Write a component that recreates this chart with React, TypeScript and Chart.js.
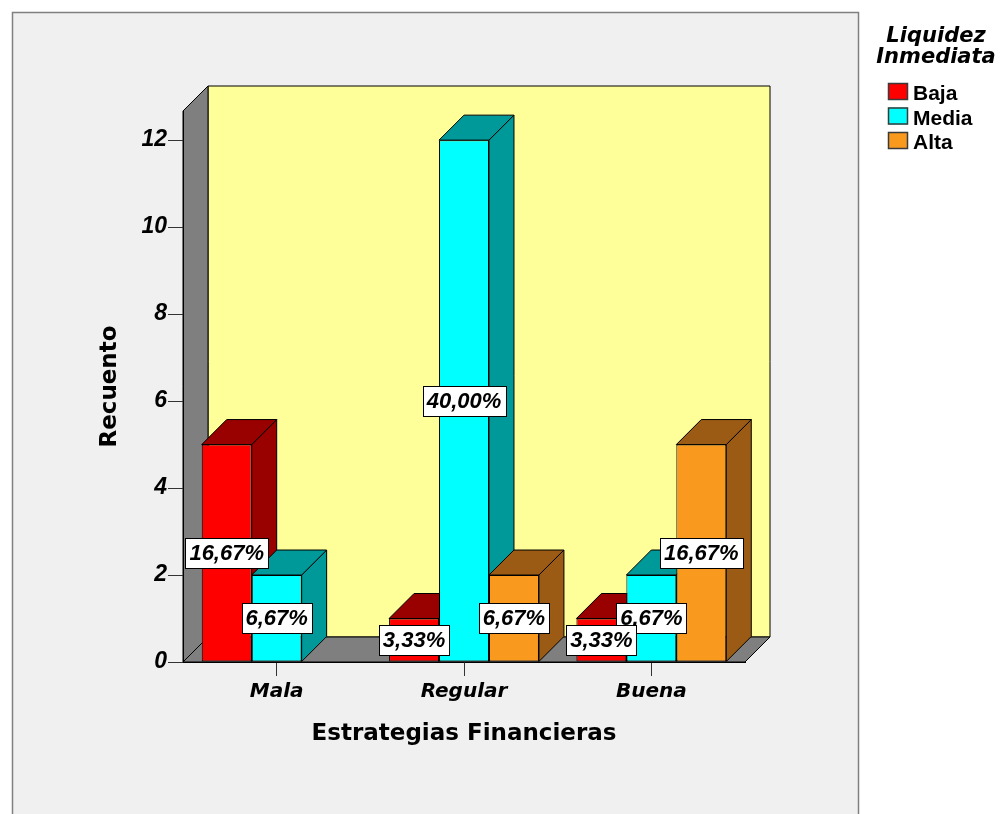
import React, { useEffect, useRef } from 'react';
import { Chart, registerables } from 'chart.js';

Chart.register(...registerables);

// ---- data ----
const CATEGORIES = ['Mala', 'Regular', 'Buena'];
const SERIES_NAMES = ['Baja', 'Media', 'Alta'];
const BAJA = [5, 1, 1];
const MEDIA = [2, 12, 2];
const ALTA = [0, 2, 5];
const Y_TICKS = [0, 2, 4, 6, 8, 10, 12];
const Y_MAX = 12.67;
const LEGEND_TITLE = ['Liquidez', 'Inmediata'];
const X_TITLE = 'Estrategias Financieras';
const Y_TITLE = 'Recuento';

// ---- styles ----
const FRONT_COLORS = ['#ff0000', '#00ffff', '#f99a1f'];
const SIDE_COLORS = ['#990000', '#009999', '#9c5b14'];
const DX = 25;
const DY = 25;

const SERIES = [BAJA, MEDIA, ALTA];
const TOTAL = SERIES.reduce((s, arr) => s + arr.reduce((a, b) => a + b, 0), 0);

function poly(ctx: CanvasRenderingContext2D, pts: number[][], fill: string, stroke = '#000', lw = 1) {
  ctx.beginPath();
  ctx.moveTo(pts[0][0], pts[0][1]);
  for (let i = 1; i < pts.length; i++) ctx.lineTo(pts[i][0], pts[i][1]);
  ctx.closePath();
  ctx.fillStyle = fill;
  ctx.fill();
  ctx.strokeStyle = stroke;
  ctx.lineWidth = lw;
  ctx.stroke();
}

const threeDPlugin = {
  id: 'threeD',
  beforeDraw(chart: any) {
    const { ctx, chartArea: a, width, height } = chart;
    ctx.save();
    ctx.fillStyle = '#ffffff';
    ctx.fillRect(0, 0, width, height);
    ctx.fillStyle = '#f0f0f0';
    ctx.fillRect(12, 12, 847, 830);
    ctx.strokeStyle = '#808080';
    ctx.lineWidth = 1.5;
    ctx.strokeRect(12.5, 12.5, 846, 830);
    // back wall
    poly(ctx, [[a.left + DX, a.top - DY], [a.right + DX, a.top - DY], [a.right + DX, a.bottom - DY], [a.left + DX, a.bottom - DY]], '#ffff99');
    // left wall
    poly(ctx, [[a.left, a.top], [a.left + DX, a.top - DY], [a.left + DX, a.bottom - DY], [a.left, a.bottom]], '#7f7f7f');
    // floor
    poly(ctx, [[a.left, a.bottom], [a.left + DX, a.bottom - DY], [a.right + DX, a.bottom - DY], [a.right, a.bottom]], '#7f7f7f');
    ctx.restore();
  },
  beforeDatasetsDraw(chart: any) {
    const { ctx } = chart;
    ctx.save();
    for (let c = 0; c < CATEGORIES.length; c++) {
      for (let d = 0; d < SERIES.length; d++) {
        const v = SERIES[d][c];
        if (!v) continue;
        const el = chart.getDatasetMeta(d).data[c];
        const { x, y, base, width } = el.getProps(['x', 'y', 'base', 'width'], true);
        const l = x - width / 2;
        const r = x + width / 2;
        poly(ctx, [[r, y], [r + DX, y - DY], [r + DX, base - DY], [r, base]], SIDE_COLORS[d]);
        poly(ctx, [[l, y], [r, y], [r + DX, y - DY], [l + DX, y - DY]], SIDE_COLORS[d]);
      }
    }
    ctx.restore();
  },
  afterDatasetsDraw(chart: any) {
    const { ctx } = chart;
    ctx.save();
    ctx.font = 'italic bold 22px "Liberation Sans", Arial, sans-serif';
    ctx.textAlign = 'center';
    ctx.textBaseline = 'middle';
    for (let d = SERIES.length - 1; d >= 0; d--) {
      for (let c = 0; c < CATEGORIES.length; c++) {
        const v = SERIES[d][c];
        if (!v) continue;
        const el = chart.getDatasetMeta(d).data[c];
        const { x, y, base } = el.getProps(['x', 'y', 'base'], true);
        const cy = (y + base) / 2;
        const txt = ((v / TOTAL) * 100).toFixed(2).replace('.', ',') + '%';
        const tw = ctx.measureText(txt).width;
        const w = Math.round(tw + 8);
        const h = 30;
        const bx = Math.round(x - w / 2) + 0.5;
        const by = Math.round(cy - h / 2) + 0.5;
        ctx.fillStyle = '#ffffff';
        ctx.fillRect(bx, by, w, h);
        ctx.strokeStyle = '#000';
        ctx.lineWidth = 1;
        ctx.strokeRect(bx, by, w, h);
        ctx.fillStyle = '#000';
        ctx.fillText(txt, x, cy + 1);
      }
    }
    ctx.restore();
  },
  afterDraw(chart: any) {
    const { ctx } = chart;
    ctx.save();
    ctx.fillStyle = '#000';
    ctx.textAlign = 'center';
    ctx.textBaseline = 'alphabetic';
    ctx.font = 'italic bold 21px "DejaVu Sans", sans-serif';
    ctx.fillText(LEGEND_TITLE[0], 936, 42);
    ctx.fillText(LEGEND_TITLE[1], 936, 63);
    ctx.textAlign = 'left';
    ctx.font = 'bold 21px "Liberation Sans", Arial, sans-serif';
    for (let i = 0; i < SERIES_NAMES.length; i++) {
      const y0 = 83 + i * 24.5;
      ctx.fillStyle = FRONT_COLORS[i];
      ctx.fillRect(888, y0, 20, 17);
      ctx.strokeStyle = '#3a3a3a';
      ctx.lineWidth = 1.5;
      ctx.strokeRect(888.5, y0 + 0.5, 19, 16);
      ctx.fillStyle = '#000';
      ctx.fillText(SERIES_NAMES[i], 913, y0 + 17);
    }
    ctx.restore();
  },
};

export default function App() {
  const ref = useRef<HTMLCanvasElement | null>(null);
  useEffect(() => {
    if (!ref.current) return;
    const tickFontY = { family: '"Liberation Sans", Arial, sans-serif', size: 23, weight: 'bold' as const, style: 'italic' as const };
    const tickFontX = { family: '"DejaVu Sans", sans-serif', size: 20, weight: 'bold' as const, style: 'italic' as const };
    const titleFont = { family: '"DejaVu Sans", sans-serif', size: 23, weight: 'bold' as const, lineHeight: 1.2 };
    const chart = new Chart(ref.current, {
      type: 'bar',
      data: {
        labels: CATEGORIES,
        datasets: SERIES.map((data, i) => ({
          label: SERIES_NAMES[i],
          data,
          backgroundColor: FRONT_COLORS[i],
          borderColor: '#000',
          borderWidth: 1,
          borderSkipped: false,
          categoryPercentage: 0.8,
          barPercentage: 1,
        })),
      },
      options: {
        responsive: false,
        animation: false,
        layout: { padding: { left: 96, top: 111, right: 256, bottom: 66 } },
        plugins: {
          legend: { display: false },
          tooltip: { enabled: false },
          title: { display: false },
        },
        scales: {
          x: {
            offset: true,
            grid: { offset: false, drawOnChartArea: false, drawTicks: true, tickLength: 14, color: '#333', lineWidth: 1 },
            border: { display: true, color: '#000' },
            ticks: { font: tickFontX, color: '#000', padding: 4, maxRotation: 0 },
            title: { display: true, text: X_TITLE, font: titleFont, color: '#000', padding: 0 },
            afterFit: (s: any) => { s.height = 86; },
          },
          y: {
            min: 0,
            max: Y_MAX,
            grid: { drawOnChartArea: false, drawTicks: true, tickLength: 15, color: '#333', lineWidth: 1 },
            border: { display: true, color: '#000' },
            ticks: { font: tickFontY, color: '#000', padding: 1, stepSize: 2 },
            afterBuildTicks: (s: any) => { s.ticks = Y_TICKS.map((v) => ({ value: v })); },
            title: { display: true, text: Y_TITLE, font: titleFont, color: '#000', padding: 0 },
            afterFit: (s: any) => { s.width = 87; },
          },
        },
      },
      plugins: [threeDPlugin],
    });
    return () => chart.destroy();
  }, []);
  return (
    <div style={{ position: 'absolute', left: 0, top: 0, width: 1001, height: 814, overflow: 'hidden' }}>
      <canvas ref={ref} width={1001} height={814} style={{ display: 'block' }} />
    </div>
  );
}
